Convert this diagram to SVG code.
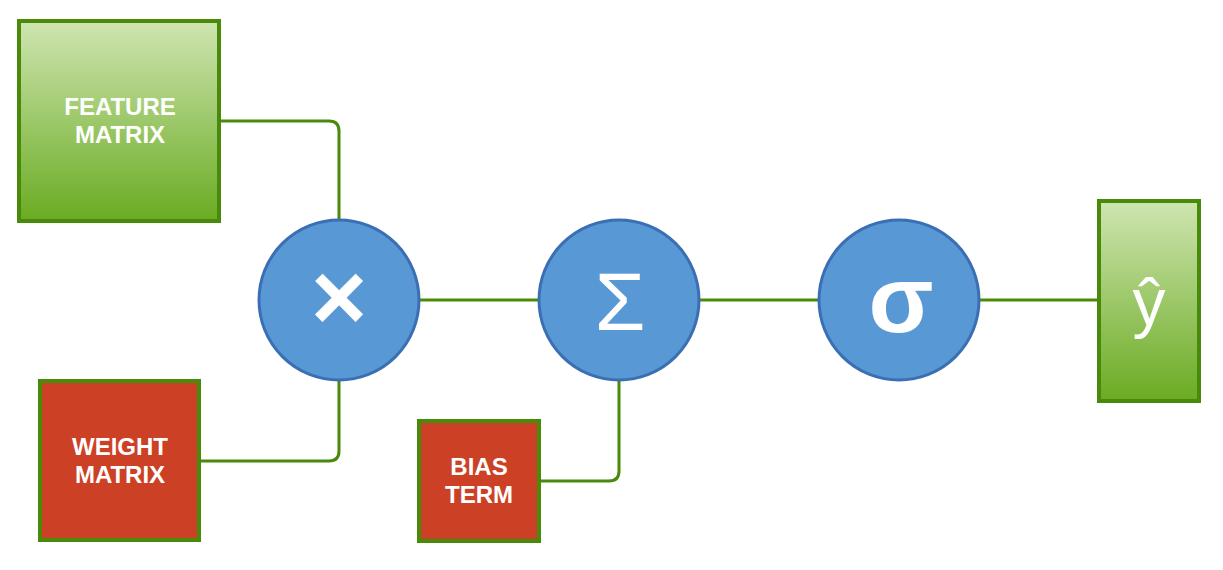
<svg xmlns="http://www.w3.org/2000/svg" width="1223" height="570" viewBox="0 0 1223 570">
<defs>
<linearGradient id="gg" x1="0" y1="0" x2="0" y2="1">
<stop offset="0" stop-color="#cfe5b1"/>
<stop offset="1" stop-color="#6aab22"/>
</linearGradient>
</defs>
<style>
.g{fill:url(#gg);stroke:#4a8a0b;stroke-width:4}
.r{fill:#cc4125;stroke:#4a8a0b;stroke-width:4}
.c{fill:#5899d5;stroke:#3b6fb4;stroke-width:3}
.w{fill:#fff;font-family:"Liberation Sans",Arial,sans-serif;font-weight:bold;font-size:24px;text-anchor:middle}
.s{fill:#fff;font-family:"Liberation Sans",Arial,sans-serif;text-anchor:middle}
.e{fill:none;stroke:#4a8a0b;stroke-width:3}
</style>
<g id="connectors">
<path class="e" d="M219 121 H329 Q339 121 339 131 V220"/>
<path class="e" d="M199 461 H329 Q339 461 339 451 V380"/>
<path class="e" d="M539 481 H609 Q619 481 619 471 V380"/>
<path class="e" d="M419 300 H539"/>
<path class="e" d="M699 300 H819"/>
<path class="e" d="M979 300 H1099"/>
</g>
<g id="feature">
<rect class="g" x="19" y="21" width="200" height="200"/>
<text class="w" x="120" y="115">FEATURE</text>
<text class="w" x="120" y="143">MATRIX</text>
</g>
<g id="weight">
<rect class="r" x="40" y="381" width="159" height="159"/>
<text class="w" x="120" y="455">WEIGHT</text>
<text class="w" x="120" y="483">MATRIX</text>
</g>
<g id="bias">
<rect class="r" x="419" y="421" width="120" height="120"/>
<text class="w" x="479" y="475">BIAS</text>
<text class="w" x="479" y="503">TERM</text>
</g>
<g id="mult">
<circle class="c" cx="339" cy="300" r="80"/>
<text class="s" x="339" y="330" font-size="96" font-weight="bold">×</text>
</g>
<g id="sum">
<circle class="c" cx="619" cy="300" r="80"/>
<text class="s" x="620" y="330" font-size="82">Σ</text>
</g>
<g id="sigma">
<circle class="c" cx="899" cy="300" r="80"/>
<text class="s" x="901" y="332" font-size="95" font-weight="bold">σ</text>
</g>
<g id="yhat">
<rect class="g" x="1099" y="201" width="100" height="200"/>
<text class="s" x="1149" y="325" font-size="66">ŷ</text>
</g>
</svg>
